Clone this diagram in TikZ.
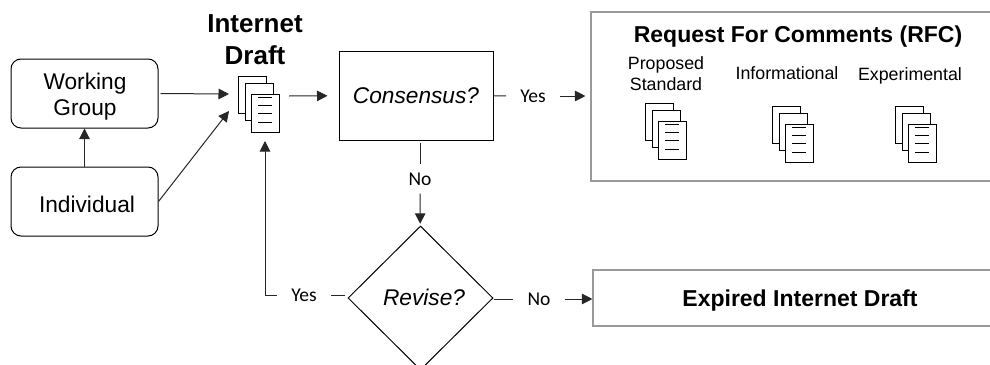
\documentclass[tikz,border=0pt]{standalone}
\usepackage{fontspec}
\setmainfont{Liberation Sans}
\newfontfamily\labelfont{Carlito}
\usetikzlibrary{arrows.meta,shapes.geometric}
\tikzset{
  line/.style={line width=1pt, black!85},
  arr/.style={line, -{Triangle[length=10.5pt,width=10.5pt]}},
  startbox/.style={draw, line width=1pt, rounded corners=10pt, minimum width=147pt, minimum height=69pt, inner sep=0pt},
  starttext/.style={align=center, inner sep=0pt, font=\fontsize{22.7}{26}\selectfont},
  greybox/.style={draw=black!40, line width=1.1pt, inner sep=0pt},
  head/.style={font=\fontsize{23}{26}\selectfont\bfseries, inner sep=0pt, text depth=0pt},
  kind/.style={font=\fontsize{17.8}{21}\selectfont, align=center, inner sep=0pt},
  query/.style={font=\fontsize{22.7}{26}\selectfont\itshape, inner sep=0pt},
  answer/.style={font=\labelfont\fontsize{19.5}{23}\selectfont, inner xsep=14pt, inner ysep=8pt},
  page/.style={draw, fill=white, line width=1pt, anchor=north west, inner sep=0pt, minimum width=28pt, minimum height=37pt},
  pics/docstack/.style={code={
    \node[page] (-a) at (0,0) {};
    \node[page] (-b) at (6.5,7) {};
    \node[page, minimum height=38pt] (-c) at (13,18) {};
    \foreach \y in {21,29,37,46}
      \draw[line width=0.9pt] (20,\y) -- (34,\y);
  }},
}
\begin{document}
\begin{tikzpicture}[x=1pt,y=-1pt]
  \useasboundingbox (0,0) rectangle (990,364);

  % Sources
  \node[startbox] (wg) at (84.5,93.5) {};
  \node[startbox] (indiv) at (84.5,201.5) {};
  \node[starttext] (wgname) at (85,97) {Working\\Group};
  \node[starttext] (indivname) at (87,204) {Individual};

  % Internet draft
  \node[font=\fontsize{26}{32}\selectfont\bfseries, align=center, inner sep=0pt] (draftname) at (255,39.5) {Internet\\Draft};
  \pic (draft) at (238,76) {docstack};
  \coordinate (draftw) at (229,94);
  \coordinate (draftsw) at (229,111);
  \coordinate (drafte) at (289,96);
  \coordinate (drafts) at (265,141);

  % Decisions
  \node[draw, line width=1pt, minimum width=154pt, minimum height=89pt, inner sep=0pt, query] (consensus) at (416,95.5) {Consensus?};
  \node[draw, diamond, aspect=1, line width=1pt, minimum width=145pt, minimum height=144pt, inner sep=0pt, query] (revise) at (420.5,298) {\hspace*{7pt}\raisebox{2pt}{Revise?}};
  \coordinate (revisew) at (345,295);

  % RFC box
  \node[greybox, minimum width=409pt, minimum height=169pt] (rfc) at (795.5,96.5) {};
  \node[head] (rfcname) at (798,34) {Request For Comments (RFC)};
  \node[kind] (proposed) at (666,74) {Proposed\\Standard};
  \node[kind] (info) at (787,73.5) {Informational};
  \node[kind] (exper) at (910,76) {Experimental};
  \pic (propdoc) at (645,103) {docstack};
  \pic (infodoc) at (772,106) {docstack};
  \pic (experdoc) at (895,106) {docstack};

  % Expired box
  \node[greybox, minimum width=414pt, minimum height=56pt, head] (expired) at (800,298) {Expired Internet Draft};

  % Answers
  \node[answer] (yesa) at (533,96) {Yes};
  \node[answer] (noa) at (420,179) {No};
  \node[answer] (yesb) at (304,295) {Yes};
  \node[answer] (nob) at (539,299) {No};

  % Connectors
  \draw[arr, shorten <=2pt] (wg.east) -- (draftw);
  \draw[arr] (indiv.east) -- (draftsw);
  \draw[arr] (indiv) -- (wg);
  \draw[arr, shorten >=11pt] (drafte) -- (consensus);
  \draw[line] (consensus) -- (yesa);
  \draw[arr, shorten >=5pt] (yesa) -- (rfc.west |- yesa);
  \draw[line, shorten <=2pt] (consensus.south -| noa) -- (noa);
  \draw[arr, shorten >=2pt] (noa) -- (revise);
  \draw[line] (revise.east |- nob) -- (nob);
  \draw[arr] (nob) -- (expired.west |- nob);
  \draw[line] (revisew) -- (yesb);
  \draw[arr] (yesb) -| (drafts);
\end{tikzpicture}
\end{document}
